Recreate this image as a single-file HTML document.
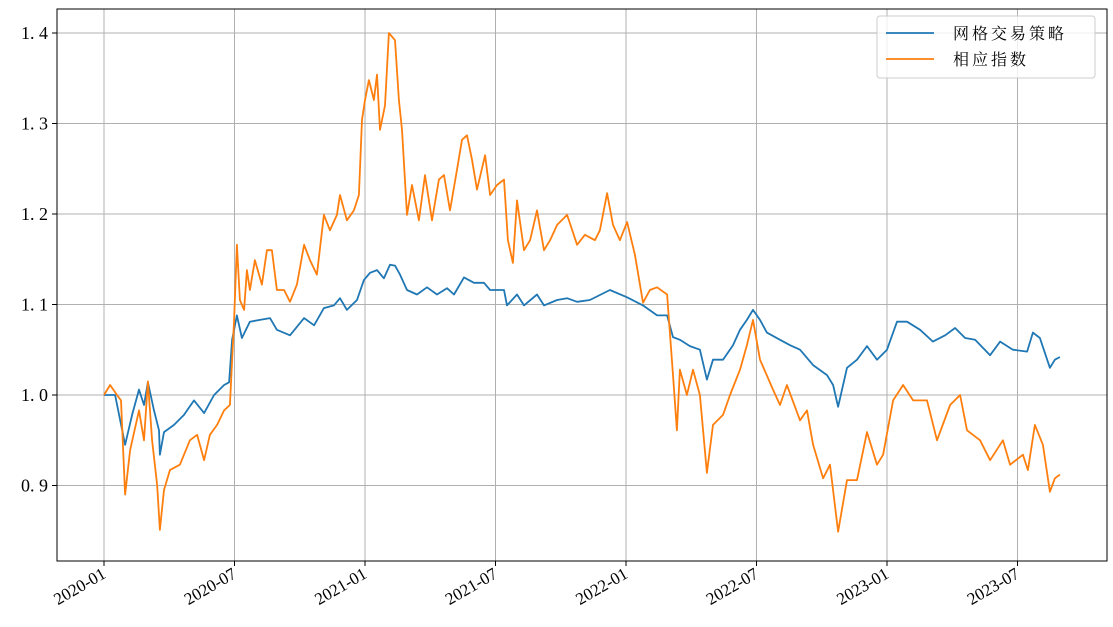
<!DOCTYPE html>
<html><head><meta charset="utf-8"><style>
body{margin:0;background:#fff;}
svg{display:block;font-family:"Liberation Serif","Noto Serif CJK SC",serif;}
</style></head><body>
<svg id="chart" width="1113" height="627" xmlns="http://www.w3.org/2000/svg"></svg>
<script>
const xTickLabels=["2020-01","2020-07","2021-01","2021-07","2022-01","2022-07","2023-01","2023-07"];
const xTickMonths=[0,6,12,18,24,30,36,42];
const yTicks=[0.9,1.0,1.1,1.2,1.3,1.4];
const gridMonths=[0,0.51,0.97,1.29,1.61,1.84,2.02,2.30,2.53,2.57,2.76,3.22,3.68,4.14,4.60,5.06,5.52,5.75,5.89,6.11,6.34,6.71,7.17,7.63,7.95,8.55,9.20,9.66,10.11,10.57,10.85,11.17,11.63,11.95,12.23,12.55,12.87,13.15,13.38,13.61,13.93,14.39,14.85,15.31,15.77,16.09,16.55,17.01,17.47,17.75,18.39,18.53,18.99,19.31,19.91,20.23,20.83,21.29,21.75,22.34,23.26,24.05,24.78,25.43,25.89,26.16,26.48,26.94,27.40,27.72,28.00,28.46,28.92,29.24,29.56,29.84,30.16,30.48,31.08,31.54,32.00,32.60,33.24,33.52,33.75,34.16,34.62,35.08,35.54,36.00,36.46,36.92,37.52,38.11,38.67,39.13,39.59,40.05,40.74,41.20,41.79,42.44,42.71,43.03,43.49,43.72,43.95];
const gridValues=[1.000,1.000,0.945,0.978,1.006,0.989,1.014,0.983,0.961,0.934,0.959,0.967,0.978,0.994,0.980,1.000,1.011,1.014,1.061,1.088,1.063,1.081,1.083,1.085,1.072,1.066,1.085,1.077,1.096,1.099,1.107,1.094,1.105,1.127,1.135,1.138,1.129,1.144,1.143,1.133,1.116,1.111,1.119,1.111,1.118,1.111,1.130,1.124,1.124,1.116,1.116,1.099,1.111,1.099,1.111,1.099,1.105,1.107,1.103,1.105,1.116,1.108,1.099,1.088,1.088,1.064,1.061,1.054,1.050,1.017,1.039,1.039,1.055,1.072,1.083,1.094,1.083,1.069,1.061,1.055,1.050,1.033,1.022,1.011,0.987,1.030,1.039,1.054,1.039,1.050,1.081,1.081,1.072,1.059,1.066,1.074,1.063,1.061,1.044,1.059,1.050,1.048,1.069,1.063,1.030,1.039,1.042];
const indexMonths=[0,0.28,0.60,0.78,0.97,1.20,1.61,1.84,2.02,2.21,2.44,2.57,2.76,3.03,3.49,3.95,4.28,4.60,4.87,5.20,5.52,5.79,5.98,6.11,6.25,6.44,6.57,6.71,6.94,7.26,7.49,7.72,7.95,8.28,8.55,8.87,9.20,9.47,9.79,10.11,10.39,10.71,10.85,11.17,11.49,11.72,11.86,12.00,12.18,12.41,12.55,12.69,12.92,13.10,13.38,13.56,13.70,13.93,14.16,14.48,14.76,15.08,15.40,15.63,15.91,16.23,16.46,16.69,16.92,17.15,17.52,17.75,18.07,18.39,18.57,18.80,18.99,19.31,19.59,19.91,20.23,20.51,20.83,21.29,21.75,22.11,22.57,22.80,23.13,23.40,23.72,24.05,24.41,24.78,25.10,25.43,25.89,26.16,26.34,26.48,26.80,27.08,27.40,27.72,28.00,28.46,28.78,29.24,29.56,29.84,30.16,30.76,31.08,31.40,32.00,32.32,32.60,33.06,33.38,33.75,34.16,34.62,35.08,35.54,35.82,36.28,36.74,37.20,37.84,38.30,38.90,39.36,39.68,40.28,40.74,41.33,41.66,42.25,42.48,42.80,43.17,43.49,43.72,43.95];
const indexValues=[1.000,1.011,1.000,0.994,0.890,0.939,0.983,0.950,1.015,0.950,0.901,0.851,0.895,0.917,0.923,0.950,0.956,0.928,0.956,0.967,0.983,0.989,1.083,1.166,1.105,1.094,1.138,1.116,1.149,1.122,1.160,1.160,1.116,1.116,1.103,1.122,1.166,1.149,1.133,1.199,1.182,1.199,1.221,1.193,1.204,1.221,1.304,1.326,1.348,1.326,1.354,1.293,1.320,1.400,1.392,1.326,1.293,1.199,1.232,1.193,1.243,1.193,1.238,1.243,1.204,1.249,1.282,1.287,1.260,1.227,1.265,1.221,1.232,1.238,1.171,1.146,1.215,1.160,1.171,1.204,1.160,1.171,1.188,1.199,1.166,1.177,1.171,1.182,1.223,1.188,1.171,1.191,1.155,1.102,1.116,1.119,1.111,1.022,0.961,1.028,1.000,1.028,1.000,0.914,0.967,0.978,1.000,1.028,1.055,1.083,1.039,1.006,0.989,1.011,0.972,0.983,0.945,0.908,0.923,0.849,0.906,0.906,0.959,0.923,0.934,0.994,1.011,0.994,0.994,0.950,0.989,1.000,0.961,0.950,0.928,0.950,0.923,0.934,0.917,0.967,0.945,0.893,0.908,0.912];
const seriesNames=["网格交易策略","相应指数"];

const NS="http://www.w3.org/2000/svg";
const svg=document.getElementById('chart');
const L=57,R=1107,T=9,B=561;
function xPos(m){return 104+m*21.75;}
function yPos(v){return 395-(v-1)*905;}
function mk(tag,attrs,parent){const e=document.createElementNS(NS,tag);for(const k in attrs)e.setAttribute(k,attrs[k]);(parent||svg).appendChild(e);return e;}

const grid=mk('g',{});


xTickMonths.forEach((m,i)=>{
  const x=xPos(m);
  const gl=mk('line',{x1:x,x2:x,y1:T,y2:B,stroke:'#b0b0b0','stroke-width':1},grid);
  
  
  const tk=mk('line',{x1:x,x2:x,y1:B,y2:B+5,stroke:'#000','stroke-width':1});
  
  
  const t=mk('text',{x:x+3,y:B+16,'font-size':17,'text-anchor':'end',transform:`rotate(-30 ${x+3} ${B+16})`,fill:'#000'});
  t.textContent=xTickLabels[i];
  
  
});
yTicks.forEach(v=>{
  const y=yPos(v);
  const gl=mk('line',{x1:L,x2:R,y1:y,y2:y,stroke:'#b0b0b0','stroke-width':1},grid);
  
  
  const tk=mk('line',{x1:L-5,x2:L,y1:y,y2:y,stroke:'#000','stroke-width':1});
  
  
  const t=mk('text',{x:L-9,y:y+6,'font-size':18,'text-anchor':'end',fill:'#000'});
  t.textContent=v.toFixed(1).replace('.','. ');
  
  
});

function drawLine(ms,vs,color,name){
  const d=ms.map((m,i)=>(i?'L':'M')+xPos(m).toFixed(1)+','+yPos(vs[i]).toFixed(1)).join(' ');
  const p=mk('path',{d:d,fill:'none',stroke:color,'stroke-width':1.8,'stroke-linejoin':'round'});
  
  
}
drawLine(gridMonths,gridValues,'#1f77b4','grid-strategy-line');
drawLine(indexMonths,indexValues,'#ff7f0e','index-line');

const frame=mk('rect',{x:L,y:T,width:R-L,height:B-T,fill:'none',stroke:'#000','stroke-width':1});



const lg=mk('g',{});


const lb=mk('rect',{x:877,y:16,width:218,height:62,rx:3,fill:'#fff','fill-opacity':0.8,stroke:'#cccccc'},lg);


['#1f77b4','#ff7f0e'].forEach((c,i)=>{
  const y=33+i*26;
  const ll=mk('line',{x1:886,x2:934,y1:y,y2:y,stroke:c,'stroke-width':1.8},lg);
  
  
  const t=mk('text',{x:953,y:y+6,'font-size':16,'letter-spacing':3,fill:'#000'},lg);
  t.textContent=seriesNames[i];
  
  
});
</script>
</body></html>
